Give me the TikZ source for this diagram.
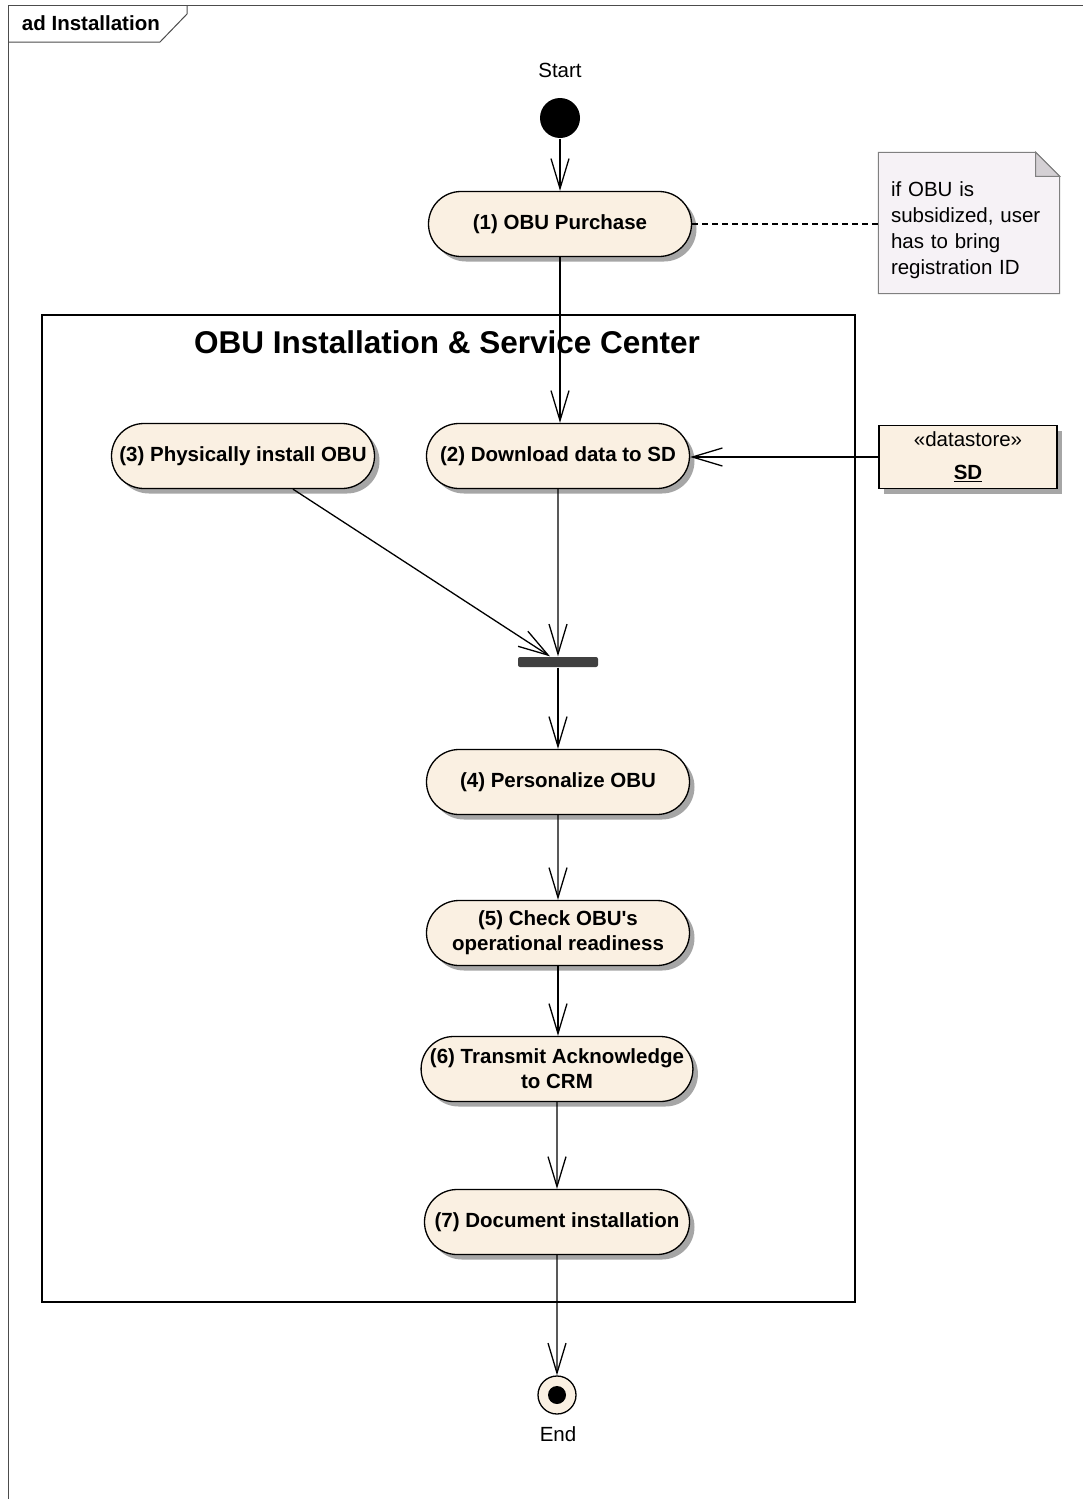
\documentclass[tikz,border=0pt]{standalone}
\usepackage{fontspec}
\setmainfont{Liberation Sans}
\usetikzlibrary{arrows.meta,shapes.misc,shadows,calc}
\definecolor{actfill}{RGB}{250,240,226}
\definecolor{notefill}{RGB}{246,242,246}
\definecolor{foldfill}{RGB}{212,208,212}
\definecolor{forkgray}{RGB}{64,64,64}
\begin{document}
\begin{tikzpicture}[x=1pt, y=-1pt, line width=1.3pt,
  action/.style={rounded rectangle, draw, fill=actfill, minimum width=267pt,
    minimum height=65pt, inner sep=2pt, align=center,
    font=\bfseries\fontsize{20.5}{25}\selectfont,
    drop shadow={shadow xshift=5pt, shadow yshift=-5pt, fill=black!35, opacity=1}},
  flow/.style={-{Straight Barb[length=30pt, width=18pt, line width=1.3pt]}},
  txt/.style={font=\fontsize{20.5}{26}\selectfont, inner sep=0pt}]
  \useasboundingbox (0,0) rectangle (1083,1499);
  % frame
  \draw[line width=1pt, black!70] (8,1499) -- (8,5) -- (1083,5);
  \draw[line width=1pt, black!70] (8,42) -- (160,42) -- (187,14) -- (187,5);
  \node[anchor=west, font=\bfseries\fontsize{20.5}{24}\selectfont] (frametitle) at (18,23) {ad Installation};
  % partition
  \draw[line width=1.3pt] (42,315) rectangle (855,1302);
  \node[font=\bfseries\fontsize{31.5}{36}\selectfont] (parttitle) at (447,342) {OBU Installation \& Service Center};
  % start / end
  \node[circle, fill=black, minimum size=40pt, inner sep=0] (start) at (560,118) {};
  \node[txt] (starttxt) at (560,70) {Start};
  \node[circle, draw, fill=actfill, minimum size=38pt, inner sep=0] (end) at (557,1395) {};
  \fill (end.center) circle (9);
  \node[txt] (endtxt) at (558,1434) {End};
  % actions
  \node[action] (purchase) at (560,224) {(1) OBU Purchase};
  \node[action] (download) at (558,456) {(2) Download data to SD};
  \node[action] (install) at (243,456) {(3) Physically install OBU};
  \node[action] (personal) at (558,782) {(4) Personalize OBU};
  \node[action] (check) at (558,933) {(5) Check OBU\textquotesingle s\\operational readiness};
  \node[action, minimum width=271pt] (ack) at (557,1069) {(6) Transmit Acknowledge\\to CRM};
  \node[action, minimum width=269pt] (document) at (557,1222) {(7) Document installation};
  \node[rounded corners=2pt, fill=forkgray, minimum width=80pt, minimum height=10pt, inner sep=0] (fork) at (558,662) {};
  % note
  \node[minimum width=180pt, minimum height=140pt, inner sep=0] (note) at (969,223) {};
  \draw[black!50, fill=notefill, line width=1pt] (note.north west) -- ($(note.north east)+(-24,0)$)
    -- ($(note.north east)+(0,24)$) -- (note.south east) -- (note.south west) -- cycle;
  \draw[black!50, fill=foldfill, line width=1pt] ($(note.north east)+(-24,0)$) -- ($(note.north east)+(-24,24)$)
    -- ($(note.north east)+(0,24)$) -- cycle;
  \node[txt, align=left, text width=160pt] (notetxt) at ([xshift=2pt,yshift=-7pt]note.center)
    {if OBU is\\subsidized, user\\has to bring\\registration ID};
  % datastore
  \node[draw, fill=actfill, minimum width=178pt, minimum height=63pt, align=center, inner sep=0,
    font=\fontsize{20.5}{33}\selectfont,
    drop shadow={shadow xshift=5pt, shadow yshift=-5pt, fill=black!35, opacity=1}] (store) at (968,457)
    {«datastore»\\\textbf{\underline{SD}}};
  % connectors
  \draw[flow] (start) -- (purchase);
  \draw[flow] (purchase.south) -- (purchase.south |- download.north);
  \draw[flow] (store.west) -- (store.west -| download.east);
  \draw[flow] (download) -- (download |- fork.north);
  \draw[flow] ([xshift=50pt]install.south) -- ([xshift=-8pt]fork.north);
  \draw[flow] (fork) -- (personal);
  \draw[flow] (personal) -- (check);
  \draw[flow] (check.south) -- (check.south |- ack.north);
  \draw[flow] (ack) -- (document);
  \draw[flow] (document) -- (end);
  \draw[dash pattern=on 6pt off 4pt, line width=1.2pt] (purchase.east) -- (purchase.east -| note.west);
\end{tikzpicture}
\end{document}
